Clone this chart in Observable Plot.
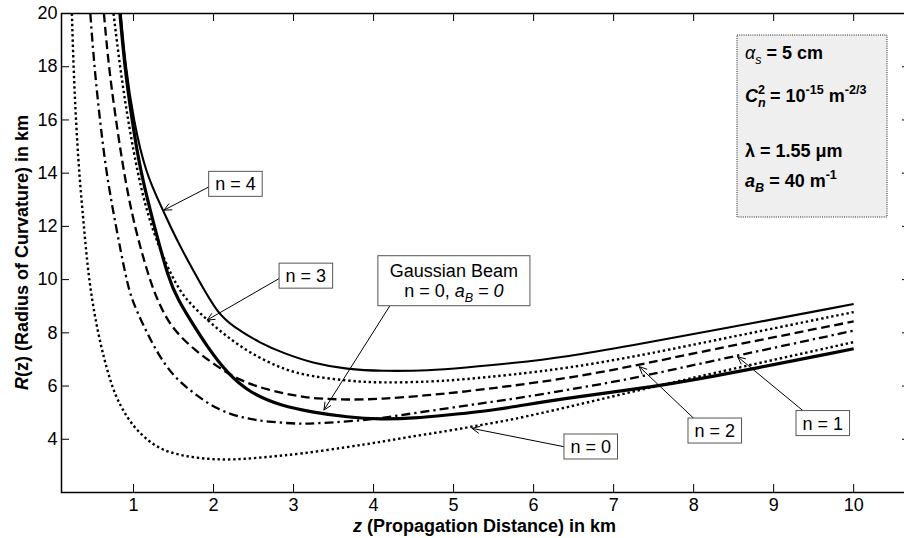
<!DOCTYPE html>
<html><head><meta charset="utf-8">
<script src="https://cdn.jsdelivr.net/npm/d3@7"></script>
<script src="https://cdn.jsdelivr.net/npm/@observablehq/plot@0.6"></script>
<style>
body{margin:0;background:#fff;}
#chart{width:904px;height:538px;overflow:hidden;}
</style></head><body><div id="chart"></div>
<script>
// ---- axis ticks ----
const xTicks = [1, 2, 3, 4, 5, 6, 7, 8, 9, 10];
const yTicks = [4, 6, 8, 10, 12, 14, 16, 18, 20];

// ---- curves: z (km) and R(z) (km) ----
const zN0 = [0.23,0.25,0.28,0.32,0.38,0.44,0.55,0.71,0.84,1.0,1.21,1.43,1.84,2.25,2.68,3.09,3.68,4.09,4.5,4.93,5.34,5.71,6.43,7.25,8.09,10.0];
const rN0 = [20,18,16,14,12,10,8,6.11,5.21,4.46,3.86,3.49,3.26,3.22,3.34,3.45,3.71,3.9,4.12,4.31,4.54,4.72,5.21,5.8,6.38,7.65];

const zN1 = [0.46,0.51,0.58,0.66,0.78,0.91,0.98,1.13,1.3,1.5,1.75,2.05,2.38,2.67,3.09,3.25,3.67,4.09,4.5,4.92,5.34,5.71,6.42,7.25,8.09,10.0];
const rN1 = [20,18,16,14,12,10,9.23,8.23,7.23,6.35,5.73,5.1,4.79,4.66,4.57,4.6,4.66,4.79,4.98,5.16,5.35,5.5,5.85,6.29,6.85,8.08];

const zN2 = [0.63,0.69,0.78,0.88,1.01,1.2,1.3,1.46,1.76,2.05,2.31,2.67,3.09,3.25,3.67,4.09,4.71,5.13,5.71,6.42,7.25,8.09,10.0];
const rN2 = [20,18,16,14,12,10,9.23,8.23,7.35,6.73,6.23,5.85,5.6,5.54,5.48,5.51,5.66,5.79,6.0,6.29,6.75,7.29,8.43];

const zGauss = [0.83,0.89,0.98,1.09,1.26,1.44,1.56,1.71,1.92,2.17,2.46,2.84,3.25,3.67,4.09,4.5,4.92,5.34,5.71,6.42,7.25,8.09,10.0];
const rGauss = [20,18,16,14,12,10,9.23,8.48,7.48,6.48,5.73,5.26,5.01,4.83,4.75,4.79,4.91,5.04,5.2,5.55,5.87,6.26,7.4];

const zN3 = [0.75,0.83,0.93,1.05,1.21,1.49,1.66,1.92,2.17,2.46,2.8,3.09,3.67,4.09,4.71,5.13,5.71,6.42,7.25,8.09,10.0];
const rN3 = [20,18,16,14,12,10,9.23,8.48,7.85,7.23,6.73,6.42,6.19,6.12,6.16,6.25,6.42,6.67,7.1,7.61,8.78];

const zN4 = [0.84,0.9,1.0,1.15,1.37,1.46,1.6,1.8,2.05,2.25,2.59,2.88,3.25,3.67,4.09,4.71,5.13,5.71,6.42,7.25,8.09,10.0];
const rN4 = [20,18,16,14,12.6,12,11.15,10.05,8.73,8.23,7.6,7.23,6.85,6.63,6.56,6.58,6.69,6.85,7.1,7.54,8.0,9.08];

// ---- annotations (text boxes and arrows, in data units) ----
const annLines = [["n = 4"], ["n = 3"], ["Gaussian Beam", "n = 0, |i:a|i sub:B|i: = 0"], ["n = 0"], ["n = 2"], ["n = 1"]];
const annZ = [2.28, 3.16, 5.01, 6.72, 8.27, 9.62];
const annR = [13.58, 10.13, 9.94, 3.71, 4.31, 4.59];
const arrowZ1 = [1.94, 2.82, 4.20, 6.38, 8.0, 9.38];
const arrowR1 = [13.48, 10.04, 9.0, 3.72, 4.79, 5.04];
const arrowZ2 = [1.38, 1.92, 3.38, 5.23, 7.32, 8.55];
const arrowR2 = [12.61, 8.48, 5.10, 4.41, 6.73, 7.10];

// ---- parameter box ----
const paramLines = [
  "i:α|i sub:s|b: = 5 cm",
  "bi:C|bi sub:n|b sup back:2|b: = 10|b sup:-15|b: m|b sup:-2/3",
  "b:λ|b: = 1.55 |b:μ|b:m",
  "bi:a|bi sub:B|b: = 40 m|b sup:-1"
];

const xTitle = "bi:z|b: (Propagation Distance) in km";
const yTitle = "bi:R|b:(z) (Radius of Curvature) in km";

// ---------------------------------------------------------------
const FONT = '"Liberation Sans", Arial, sans-serif';
const rows = (zs, rs) => zs.map((z, i) => ({z, r: rs[i]}));
const ctx = document.createElement("canvas").getContext("2d");
function mw(s, fs, it, bd) {
  ctx.font = `${it ? "italic " : ""}${bd ? "bold " : ""}${fs}px "Liberation Sans"`;
  return ctx.measureText(s).width;
}
function parse(str) {
  return str.split("|").map(p => {
    const k = p.indexOf(":");
    const st = k < 0 ? "" : p.slice(0, k);
    const t = k < 0 ? p : p.slice(k + 1);
    const tok = st.split(" ");
    return {t, b: tok.includes("b") || tok.includes("bi"), i: tok.includes("i") || tok.includes("bi"),
            sub: tok.includes("sub"), sup: tok.includes("sup"), back: tok.includes("back")};
  });
}
function lineWidth(str, fs) {
  let w = 0, prev = 0;
  parse(str).forEach(p => {
    const f = (p.sub || p.sup) ? fs * 0.7 : fs;
    const pw = mw(p.t, f, p.i, p.b);
    if (p.back) { w += Math.max(0, pw - prev); } else { w += pw; }
    prev = pw;
  });
  return w;
}
function richText(g, x, y, str, fs, anchor) {
  const t = g.append("text").attr("x", x).attr("y", y).attr("text-anchor", anchor)
    .attr("font-size", fs).attr("font-family", FONT).attr("fill", "black");
  let cur = 0, prev = 0;
  parse(str).forEach(p => {
    const f = (p.sub || p.sup) ? fs * 0.7 : fs;
    const target = p.sub ? fs * 0.28 : p.sup ? -fs * 0.42 : 0;
    const ts = t.append("tspan").text(p.t).attr("dy", target - cur).attr("font-size", f)
      .attr("font-weight", p.b ? "bold" : "normal").attr("font-style", p.i ? "italic" : "normal");
    if (p.back) ts.attr("dx", -prev);
    cur = target;
    prev = mw(p.t, f, p.i, p.b);
  });
  return t;
}

const annData = annZ.map((z, i) => ({z, r: annR[i], lines: annLines[i]}));
const arrowData = arrowZ1.map((z, i) => ({x1: z, y1: arrowR1[i], x2: arrowZ2[i], y2: arrowR2[i]}));

function annotationMark(index, scales) {
  const g = d3.create("svg:g");
  const fs = 18, lh = 20;
  annData.forEach(a => {
    const cx = scales.x(a.z), cy = scales.y(a.r);
    const multi = a.lines.length > 1;
    const padX = multi ? 12 : 6.5, padY = multi ? 5 : 2.5;
    const w = Math.max(...a.lines.map(l => lineWidth(l, fs))) + 2 * padX;
    const h = a.lines.length * lh + 2 * padY;
    g.append("rect").attr("x", cx - w / 2).attr("y", cy - h / 2).attr("width", w).attr("height", h)
      .attr("fill", "white").attr("stroke", "#555").attr("stroke-width", 1);
    a.lines.forEach((l, i) => {
      richText(g, cx, cy - h / 2 + padY + lh * (i + 0.5) + fs * 0.36, l, fs, "middle");
    });
  });
  return g.node();
}

function paramMark(index, scales, values, dims) {
  const g = d3.create("svg:g");
  const right = dims.width - dims.marginRight - 23;
  const left = right - 150, top = dims.marginTop + 22, bottom = top + 182;
  g.append("rect").attr("x", left).attr("y", top).attr("width", right - left).attr("height", bottom - top)
    .attr("fill", "#efefef").attr("stroke", "#222").attr("stroke-width", 1).attr("stroke-dasharray", "1,1.2");
  const base = [24, 67, 122, 152];
  paramLines.forEach((l, i) => richText(g, left + 8, top + base[i], l, 18, "start"));
  return g.node();
}

function titleMark(index, scales, values, dims) {
  const g = d3.create("svg:g");
  const cx = (dims.marginLeft + dims.width - dims.marginRight) / 2;
  richText(g, cx - 1, dims.height - 6, xTitle, 18, "middle");
  const cy = (dims.marginTop + dims.height - dims.marginBottom) / 2;
  const yt = richText(g, 0, 0, yTitle, 18, "middle");
  yt.attr("transform", `translate(28,${cy}) rotate(-90)`);
  return g.node();
}

const W = 904, H = 538, ML = 61, MR = -6, MT = 13, MB = 46;
const plotW = W - ML - MR, plotH = H - MT - MB;
const TICK = 8;

const curveStyle = {x: "z", y: "r", stroke: "black", curve: "basis", strokeLinecap: "butt", strokeLinejoin: "round"};

const chart = Plot.plot({
  width: W, height: H,
  marginLeft: ML, marginRight: MR, marginTop: MT, marginBottom: MB,
  x: {domain: [0.1, 10.71]},
  y: {domain: [2, 20]},
  style: {fontFamily: FONT, fontSize: "18px", background: "white", color: "black", overflow: "hidden"},
  marks: [
    Plot.line(rows(zN0, rN0), {...curveStyle, strokeWidth: 2.4, strokeDasharray: "2.4,2.8"}),
    Plot.line(rows(zN1, rN1), {...curveStyle, strokeWidth: 2.3, strokeDasharray: "9,4,2.3,4"}),
    Plot.line(rows(zN2, rN2), {...curveStyle, strokeWidth: 2.3, strokeDasharray: "9,4.5"}),
    Plot.line(rows(zN3, rN3), {...curveStyle, strokeWidth: 2.4, strokeDasharray: "2.4,2.8"}),
    Plot.line(rows(zN4, rN4), {...curveStyle, strokeWidth: 2.1}),
    Plot.line(rows(zGauss, rGauss), {...curveStyle, strokeWidth: 3.2}),
    Plot.arrow(arrowData, {x1: "x1", y1: "y1", x2: "x2", y2: "y2", stroke: "black", strokeWidth: 1, headLength: 12, headAngle: 50}),
    annotationMark,
    paramMark,
    Plot.ruleX(xTicks, {x: d => d, insetTop: plotH - TICK, stroke: "black", strokeWidth: 1}),
    Plot.ruleX(xTicks, {x: d => d, insetBottom: plotH - TICK, stroke: "black", strokeWidth: 1}),
    Plot.ruleY(yTicks, {y: d => d, insetRight: plotW - TICK, stroke: "black", strokeWidth: 1}),
    Plot.ruleY(yTicks, {y: d => d, insetLeft: plotW - TICK, stroke: "black", strokeWidth: 1}),
    Plot.frame({stroke: "black", strokeWidth: 1.5}),
    Plot.axisX({ticks: xTicks, tickSize: 0, tickPadding: 6, label: null, fontSize: 18}),
    Plot.axisY({ticks: yTicks, tickSize: 0, tickPadding: 4, label: null, fontSize: 18}),
    titleMark
  ]
});
document.getElementById("chart").appendChild(chart);
</script>
</body></html>
